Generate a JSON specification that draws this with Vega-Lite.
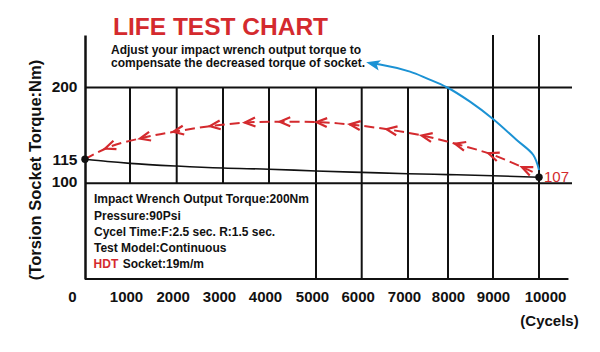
{
  "$schema": "https://vega.github.io/schema/vega-lite/v6.json",
  "width": 487,
  "height": 244,
  "autosize": "none",
  "padding": {"left": 85, "top": 35, "right": 28, "bottom": 73},
  "background": "white",
  "config": {"view": {"stroke": null}, "font": "Liberation Sans"},
  "datasets": {
    "vgrid": [
      {"x": 1000, "y": 100, "y2": 200},
      {"x": 2000, "y": 100, "y2": 200},
      {"x": 3000, "y": 100, "y2": 200},
      {"x": 4000, "y": 100, "y2": 200},
      {"x": 5000, "y": 0, "y2": 200},
      {"x": 6000, "y": 0, "y2": 200},
      {"x": 7000, "y": 0, "y2": 200},
      {"x": 8000, "y": 0, "y2": 200},
      {"x": 9000, "y": 0, "y2": 255},
      {"x": 10000, "y": 0, "y2": 255}
    ],
    "hgrid": [
      {"y": 200, "x": 0, "x2": 10717},
      {"y": 100, "x": 0, "x2": 10717},
      {"y": 0, "x": 0, "x2": 10640}
    ],
    "torque": [
      {"x": 0, "y": 115},
      {"x": 500, "y": 114.0},
      {"x": 1000, "y": 113.2},
      {"x": 2000, "y": 112.0},
      {"x": 3000, "y": 111.1},
      {"x": 4000, "y": 110.6},
      {"x": 5000, "y": 109.8},
      {"x": 6000, "y": 109.2},
      {"x": 7000, "y": 108.6},
      {"x": 8000, "y": 108.2},
      {"x": 9000, "y": 107.7},
      {"x": 10000, "y": 107}
    ],
    "arc": [
      {"x": 0, "y": 115},
      {"x": 556, "y": 129.9},
      {"x": 1321, "y": 141.0},
      {"x": 2035, "y": 148.5},
      {"x": 2827, "y": 155.0},
      {"x": 3587, "y": 158.8},
      {"x": 4340, "y": 159.5},
      {"x": 5125, "y": 158.8},
      {"x": 5853, "y": 155.6},
      {"x": 6648, "y": 149.7},
      {"x": 7468, "y": 142.0},
      {"x": 8267, "y": 132.0},
      {"x": 9007, "y": 120.1},
      {"x": 9733, "y": 110.6},
      {"x": 9957, "y": 108.5}
    ],
    "blue": [
      {"x": 6244, "y": 224.9},
      {"x": 6395, "y": 224.1},
      {"x": 7050, "y": 216.6},
      {"x": 7468, "y": 209.6},
      {"x": 7983, "y": 200},
      {"x": 8489, "y": 183.2},
      {"x": 9000, "y": 162.7},
      {"x": 9515, "y": 137.8},
      {"x": 9876, "y": 120.1},
      {"x": 10000, "y": 110.2}
    ],
    "ends": [
      {"x": 0, "y": 115},
      {"x": 10000, "y": 107}
    ],
    "heading": [
      {"text": "LIFE TEST CHART", "x": 622, "y": 255}
    ],
    "note": [
      {"text": "Adjust your impact wrench output torque to", "x": 578, "y": 235.1},
      {"text": "compensate the decreased torque of socket.", "x": 578, "y": 221.2}
    ],
    "info": [
      {"text": "Impact Wrench Output Torque:200Nm", "x": 200, "y": 79.1},
      {"text": "Pressure:90Psi", "x": 200, "y": 62.0},
      {"text": "Cycel Time:F:2.5 sec. R:1.5 sec.", "x": 200, "y": 45.0},
      {"text": "Test Model:Continuous", "x": 200, "y": 28.0},
      {"text": "Socket:19m/m", "x": 837, "y": 11.0}
    ],
    "brand": [
      {"text": "HDT", "x": 190, "y": 11.0}
    ]
  },
  "encoding": {
    "x": {
      "field": "x",
      "type": "quantitative",
      "scale": {
        "domain": [0, 1000, 2000, 3000, 4000, 5000, 6000, 7000, 8000, 9000, 10000, 10717],
        "range": [0, 45, 91.7, 138, 184, 231, 276.7, 323, 363, 408, 454, 487],
        "nice": false,
        "zero": false
      },
      "axis": {
        "values": [0, 1000, 2000, 3000, 4000, 5000, 6000, 7000, 8000, 9000, 10000],
        "format": "d",
        "domain": false,
        "grid": false,
        "ticks": false,
        "tickSize": 0,
        "labelPadding": 10,
        "labelFont": "Liberation Sans",
        "labelFontSize": 15,
        "labelFontWeight": "bold",
        "labelColor": "#111111",
        "labelFlush": false,
        "labelOverlap": false,
        "labelOffset": {
          "condition": [
            {"test": "datum.value === 0", "value": -13},
            {"test": "datum.value === 10000", "value": 6},
            {"test": "datum.value >= 8000", "value": 0}
          ],
          "value": -4
        },
        "title": "(Cycels)",
        "titleFont": "Liberation Sans",
        "titleFontSize": 15,
        "titleFontWeight": "bold",
        "titleColor": "#111111",
        "titleX": 464,
        "titleY": 41,
        "titleAlign": "center",
        "titleBaseline": "middle",
        "titleAngle": 0
      }
    },
    "y": {
      "field": "y",
      "type": "quantitative",
      "scale": {
        "domain": [0, 100, 107, 115, 200, 255],
        "range": [244, 148.3, 142.3, 124.3, 52.5, 0],
        "nice": false,
        "zero": false
      },
      "axis": {
        "values": [100, 115, 200],
        "domain": true,
        "domainColor": "#111111",
        "domainWidth": 2.5,
        "grid": false,
        "ticks": false,
        "tickSize": 0,
        "labelPadding": 8,
        "labelFont": "Liberation Sans",
        "labelFontSize": 15.5,
        "labelFontWeight": "bold",
        "labelColor": "#111111",
        "labelFlush": false,
        "labelOverlap": false,
        "labelOffset": {
          "condition": [
            {"test": "datum.value === 100", "value": -2},
            {"test": "datum.value === 200", "value": -1}
          ],
          "value": 0
        },
        "title": "(Torsion Socket Torque:Nm)",
        "titleFont": "Liberation Sans",
        "titleFontSize": 16.5,
        "titleFontWeight": "bold",
        "titleColor": "#111111",
        "titleX": -50,
        "titleY": 134.5,
        "titleAngle": 270,
        "titleAlign": "center",
        "titleBaseline": "middle"
      }
    }
  },
  "layer": [
    {
      "data": {"name": "vgrid"},
      "mark": {"type": "rule", "color": "#111111", "strokeWidth": 2},
      "encoding": {"y2": {"field": "y2"}}
    },
    {
      "data": {"name": "hgrid"},
      "mark": {"type": "rule", "color": "#111111", "strokeWidth": 2},
      "encoding": {"x2": {"field": "x2"}}
    },
    {
      "data": {"name": "torque"},
      "mark": {"type": "line", "color": "#111111", "strokeWidth": 1.6, "interpolate": "monotone"},
      "encoding": {}
    },
    {
      "data": {"name": "arc"},
      "mark": {"type": "line", "color": "#d42a2e", "strokeWidth": 2, "strokeDash": [10, 5], "interpolate": "catmull-rom"},
      "encoding": {}
    },
    {
      "data": {"name": "arc"},
      "transform": [
        {"calculate": "datum.x * 0.0455", "as": "px"},
        {"calculate": "datum.y >= 115 ? (datum.y - 115) * 0.845 : (datum.y - 115) * 2.25", "as": "py"},
        {
          "window": [
            {"op": "lag", "field": "px", "as": "pxp"},
            {"op": "lead", "field": "px", "as": "pxn"},
            {"op": "lag", "field": "py", "as": "pyp"},
            {"op": "lead", "field": "py", "as": "pyn"}
          ],
          "sort": [{"field": "x", "order": "ascending"}]
        },
        {"calculate": "atan2(-((isValid(datum.pyn) ? datum.pyn : datum.py) - (isValid(datum.pyp) ? datum.pyp : datum.py)), (isValid(datum.pxn) ? datum.pxn : datum.px) - (isValid(datum.pxp) ? datum.pxp : datum.px)) * 180 / PI", "as": "heading"},
        {"filter": "datum.x > 0 && datum.x < 9900"}
      ],
      "mark": {"type": "point", "shape": "M1,-0.85L-1,0L1,0.85", "filled": false, "color": "#d42a2e", "strokeWidth": 2.2, "size": 110, "opacity": 1},
      "encoding": {
        "angle": {"field": "heading", "type": "quantitative", "scale": null}
      }
    },
    {
      "data": {"name": "blue"},
      "mark": {"type": "line", "color": "#1b92d4", "strokeWidth": 2, "interpolate": "catmull-rom"},
      "encoding": {}
    },
    {
      "data": {"name": "blue"},
      "transform": [{"filter": "datum.x < 6300"}],
      "mark": {"type": "point", "shape": "M-1,0L1,-0.75L0.55,0L1,0.75Z", "filled": true, "color": "#1b92d4", "size": 196, "angle": 13, "opacity": 1},
      "encoding": {}
    },
    {
      "data": {"name": "ends"},
      "mark": {"type": "circle", "color": "#111111", "size": 55, "opacity": 1},
      "encoding": {}
    },
    {
      "data": {"name": "ends"},
      "transform": [{"filter": "datum.x === 10000"}],
      "mark": {"type": "text", "color": "#d42a2e", "font": "Liberation Sans", "fontSize": 15, "align": "left", "baseline": "middle", "dx": 5},
      "encoding": {"text": {"field": "y", "type": "quantitative"}}
    },
    {
      "data": {"name": "heading"},
      "mark": {"type": "text", "color": "#d42a2e", "font": "Liberation Sans", "fontSize": 24.5, "fontWeight": "bold", "align": "left", "baseline": "alphabetic"},
      "encoding": {"text": {"field": "text"}}
    },
    {
      "data": {"name": "note"},
      "mark": {"type": "text", "color": "#111111", "font": "Liberation Sans", "fontSize": 12, "fontWeight": "bold", "align": "left", "baseline": "alphabetic"},
      "encoding": {"text": {"field": "text"}}
    },
    {
      "data": {"name": "info"},
      "mark": {"type": "text", "color": "#111111", "font": "Liberation Sans", "fontSize": 12, "fontWeight": "bold", "align": "left", "baseline": "alphabetic"},
      "encoding": {"text": {"field": "text"}}
    },
    {
      "data": {"name": "brand"},
      "mark": {"type": "text", "color": "#d42a2e", "font": "Liberation Sans", "fontSize": 12, "fontWeight": "bold", "align": "left", "baseline": "alphabetic"},
      "encoding": {"text": {"field": "text"}}
    }
  ]
}
